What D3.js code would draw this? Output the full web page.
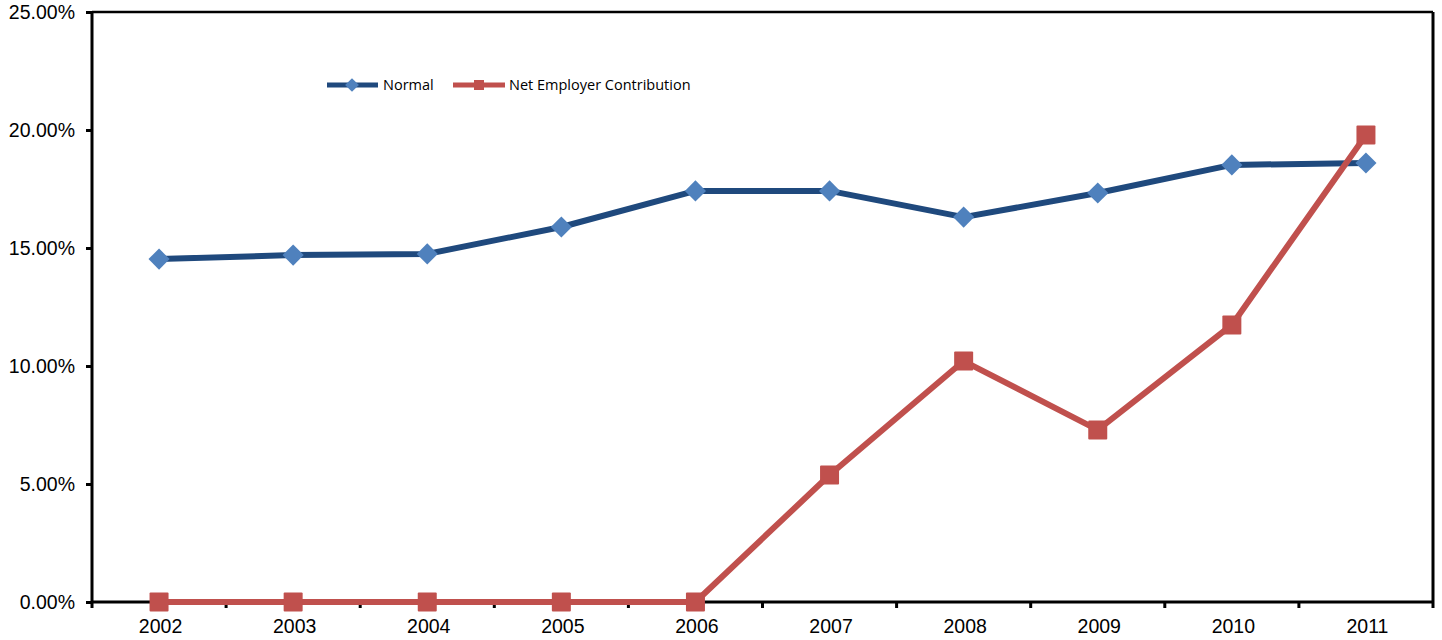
<!DOCTYPE html>
<html><head><meta charset="utf-8">
<script src="https://cdn.jsdelivr.net/npm/d3@7"></script>
<style>body{margin:0;background:#fff;}svg{display:block;}</style>
</head><body>
<svg id="c" width="1442" height="640"></svg>
<script>
const years = ["2002","2003","2004","2005","2006","2007","2008","2009","2010","2011"];
const normal = [14.53, 14.70, 14.75, 15.89, 17.42, 17.42, 16.31, 17.33, 18.52, 18.60];
const netEmployer = [0, 0, 0, 0, 0, 5.38, 10.21, 7.29, 11.74, 19.79];
const yTicks = [0, 5, 10, 15, 20, 25];

const svg = d3.select("#c");
const L = 92, R = 1433, T = 12, B = 602;
const x = d3.scaleBand().domain(years).range([L, R]);
const y = d3.scaleLinear().domain([0, 25]).range([B, T]);
const cx = d => x(d) + x.bandwidth() / 2;

// frame (top, right)
svg.append("line").attr("x1", L).attr("x2", R).attr("y1", T).attr("y2", T).attr("stroke", "#000").attr("stroke-width", 2.5);
svg.append("line").attr("x1", R).attr("x2", R).attr("y1", T).attr("y2", B).attr("stroke", "#000").attr("stroke-width", 3);

// y axis
const ya = svg.append("g").attr("transform", `translate(${L},0)`)
  .call(d3.axisLeft(y).tickValues(yTicks).tickSize(6).tickPadding(11).tickFormat(d => d.toFixed(2) + "%"));
ya.select(".domain").attr("stroke", "#000").attr("stroke-width", 3).attr("d", `M0,${T}V${B}`);
ya.selectAll(".tick line").attr("stroke", "#000").attr("stroke-width", 3);
ya.selectAll("text").attr("font-family", "Liberation Sans, Arial, sans-serif").attr("font-size", 19.5).attr("fill", "#000");

// x axis
const xa = svg.append("g").attr("transform", `translate(0,${B})`)
  .call(d3.axisBottom(x).tickSize(0).tickPadding(17));
xa.select(".domain").attr("stroke", "#000").attr("stroke-width", 3).attr("d", `M${L},0H${R}`);
xa.selectAll("text").attr("font-family", "Liberation Sans, Arial, sans-serif").attr("font-size", 19.5).attr("fill", "#000");
xa.selectAll(".tick").attr("transform", d => `translate(${cx(d) + 1.5},0)`);
// boundary ticks
const bounds = years.map(d => x(d)).concat([R]);
xa.selectAll(".bt").data(bounds).enter().append("line").attr("class", "bt")
  .attr("x1", d => d).attr("x2", d => d).attr("y1", 0).attr("y2", 6)
  .attr("stroke", "#000").attr("stroke-width", 3);

const line = d3.line().x((d, i) => cx(years[i])).y(d => y(d));

// Normal series
svg.append("path").datum(normal).attr("d", line).attr("fill", "none")
  .attr("stroke", "#1F497D").attr("stroke-width", 6).attr("stroke-linejoin", "round");
svg.selectAll(".dm").data(normal).enter().append("path").attr("class", "dm")
  .attr("d", d3.symbol().type(d3.symbolDiamond2).size(285))
  .attr("transform", (d, i) => `translate(${cx(years[i])},${y(d)})`)
  .attr("fill", "#4F81BD");

// Net Employer series
svg.append("path").datum(netEmployer).attr("d", line).attr("fill", "none")
  .attr("stroke", "#C0504D").attr("stroke-width", 6).attr("stroke-linejoin", "round");
svg.selectAll(".sq").data(netEmployer).enter().append("rect").attr("class", "sq")
  .attr("x", (d, i) => cx(years[i]) - 9.5).attr("y", d => y(d) - 9.5)
  .attr("width", 19).attr("height", 19).attr("rx", 1).attr("fill", "#C0504D");

// legend
const lg = svg.append("g").attr("font-family", "Open Sans, sans-serif").attr("font-size", 14.5).attr("fill", "#000");
lg.append("line").attr("x1", 327).attr("x2", 378).attr("y1", 85).attr("y2", 85).attr("stroke", "#1F497D").attr("stroke-width", 5);
lg.append("path").attr("d", d3.symbol().type(d3.symbolDiamond2).size(120)).attr("transform", "translate(352,85)").attr("fill", "#4F81BD");
lg.append("text").attr("x", 383).attr("y", 90).text("Normal");
lg.append("line").attr("x1", 453).attr("x2", 505).attr("y1", 85).attr("y2", 85).attr("stroke", "#C0504D").attr("stroke-width", 5);
lg.append("rect").attr("x", 474).attr("y", 80).attr("width", 10).attr("height", 10).attr("fill", "#C0504D");
lg.append("text").attr("x", 509).attr("y", 90).text("Net Employer Contribution");
</script>
</body></html>
